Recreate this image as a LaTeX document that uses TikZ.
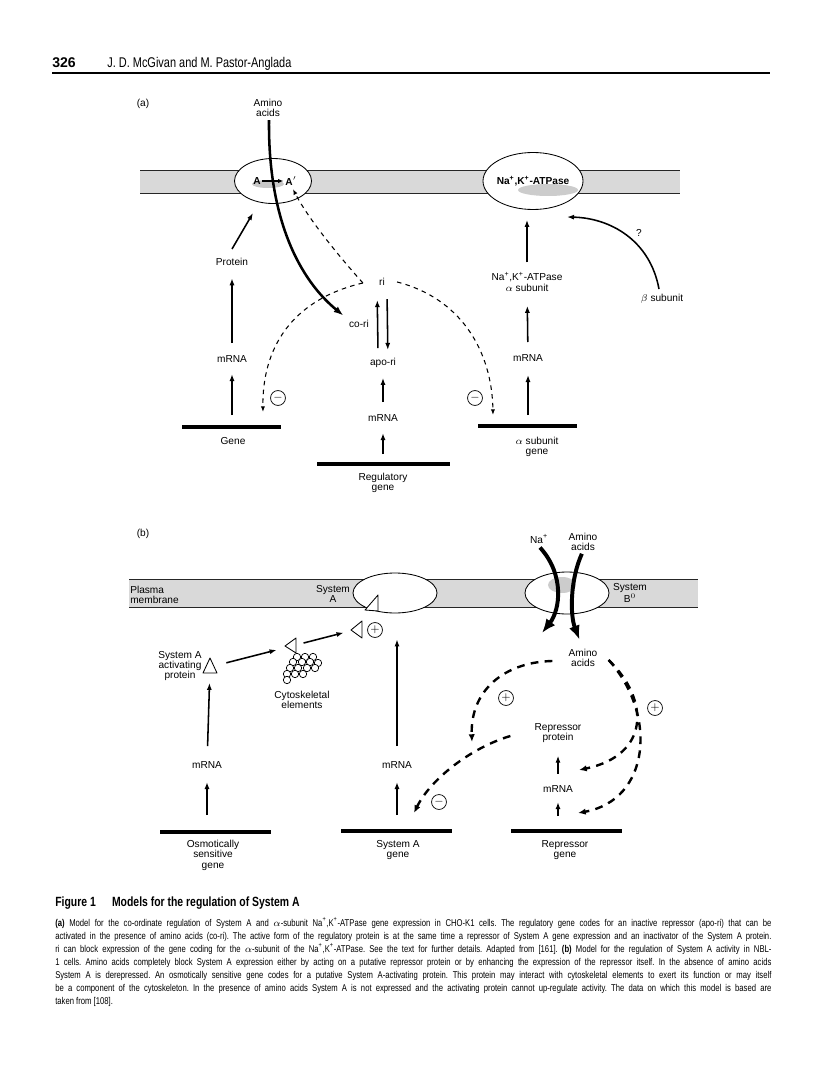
\documentclass[tikz,border=0pt]{standalone}
\usepackage{fontspec}
\setmainfont{Liberation Sans}
\newfontfamily\narrowfont[FakeStretch=0.78]{Liberation Sans}
\usetikzlibrary{arrows.meta}
\newcommand\lblfont{\fontsize{7.2}{7.4}\selectfont}
\newcommand\capfont{\narrowfont\fontsize{7}{9}\selectfont}
\frenchspacing

\tikzset{
  lbl/.style={font=\lblfont, align=center, inner sep=0pt},
  memb/.style={fill=black!15},
  mline/.style={line width=0.7pt, black!85},
  pump/.style={draw, line width=0.6pt, fill=white},
  genebar/.style={line width=3.4pt},
  arr/.style={line width=1.1pt, -{Latex[length=5pt,width=3.6pt]}},
  gap/.style 2 args={shorten <=#1, shorten >=#2},
  dsh/.style={line width=0.75pt, dash pattern=on 3.2pt off 3pt, -{Latex[length=4pt,width=3pt]}},
  bdsh/.style={line width=1.7pt, dash pattern=on 5.5pt off 4.5pt, -{Latex[length=5.5pt,width=4.5pt]}},
  big/.style={line width=2.8pt, -{Latex[length=10pt,width=8pt]}},
  sgn/.style={circle, draw, line width=0.5pt, minimum size=10.6pt, inner sep=0pt, font=\fontsize{8}{8}\selectfont},
  tri/.style={draw, line width=0.6pt, fill=white, line join=round},
}

\begin{document}
\begin{tikzpicture}[x=0.025cm, y=-0.025cm]
  \useasboundingbox (0,0) rectangle (816,1089);

  % page head
  \node[anchor=base west, inner sep=0pt, font=\bfseries\fontsize{10}{11}\selectfont] (pgno) at (52,68) {326};
  \node[anchor=base west, inner sep=0pt, font=\narrowfont\fontsize{10}{11}\selectfont] (auth) at (107,68) {J. D. McGivan and M. Pastor-Anglada};
  \draw[line width=1pt] (52,73) -- (770,73);

  % ---------- (a) ----------
  \node[lbl] (pa) at (143,104) {(a)};
  \node[lbl] (aa) at (268,108) {Amino\\acids};
  \fill[memb] (140,170) rectangle (680,193);
  \draw[mline] (140,170) -- (680,170) (140,193) -- (680,193);

  \draw[pump] (273,181) ellipse [x radius=38.5, y radius=22.5];
  \fill[black!22] (268,184) ellipse [x radius=16, y radius=4];
  \draw[pump] (533,181) ellipse [x radius=50, y radius=28.5];
  \fill[black!20] (548,190) ellipse [x radius=30, y radius=6];
  \coordinate (nakbot) at (527,210);
  \coordinate (nakse) at (567,217);

  \node[lbl, font=\lblfont\bfseries] (A) at (257,181) {A};
  \node[lbl, font=\lblfont\bfseries] (Ap) at (291,181) {A$'$};
  \draw[line width=0.8pt, -{Latex[length=4pt,width=3pt]}, gap={1pt}{1pt}] (A) -- (Ap);
  \node[lbl, font=\lblfont\bfseries] (nakp) at (533,181) {Na\textsuperscript{+},K\textsuperscript{+}-ATPase};

  % left column
  \node[lbl] (prot) at (232,262) {Protein};
  \node[lbl] (mA) at (232,359) {mRNA};
  \draw[genebar] (182,427) -- (281,427);
  \coordinate (gA) at (232,427);
  \node[lbl] (geneA) at (233,441) {Gene};
  \coordinate (ptip) at (253,213);
  \draw[arr] (prot.north) ++(0,-9) -- (ptip);
  \draw[arr, gap={8.5pt}{8pt}] (gA) -- (mA);
  \draw[arr, gap={8.7pt}{8.7pt}] (mA) -- (prot);

  % regulatory column
  \node[lbl] (ri) at (382,282) {ri};
  \node[lbl] (cori) at (359,324) {co-ri};
  \node[lbl] (apori) at (383,363) {apo-ri};
  \node[lbl] (mR) at (383,418) {mRNA};
  \draw[genebar] (317,464) -- (450,464);
  \coordinate (gR) at (383,464);
  \node[lbl] (regg) at (383,483) {Regulatory\\gene};
  \draw[arr, gap={7pt}{8pt}] (gR) -- (mR);
  \draw[arr, gap={8.7pt}{7pt}] (mR) -- (apori);
  \draw[arr, gap={7pt}{10pt}] ([xshift=-3.5pt]apori.north) -- ([xshift=-3.5pt]ri.south);
  \draw[arr, gap={9.4pt}{5.7pt}] ([xshift=3.5pt]ri.south) -- ([xshift=3.5pt]apori.north);

  % ATPase column
  \node[lbl] (nak) at (527,282) {Na\textsuperscript{+},K\textsuperscript{+}-ATPase\\$\alpha$ subunit};
  \node[lbl] (mN) at (528,358) {mRNA};
  \draw[genebar] (478,426) -- (577,426);
  \coordinate (gN) at (528,426);
  \node[lbl] (alg) at (537,447) {$\alpha$ subunit\\gene};
  \node[lbl] (beta) at (662,299) {$\beta$ subunit};
  \node[lbl] (qm) at (639,233) {?};
  \draw[arr, gap={7.8pt}{9.4pt}] (gN) -- (mN);
  \draw[arr, gap={8.7pt}{10pt}] (mN) -- (nak);
  \draw[arr, gap={7pt}{7pt}] (nak) -- (nakbot);
  \draw[arr] (beta.north) ++(-3,-5) .. controls (650,240) and (610,218) .. (nakse);

  % amino acids through System A
  \draw[line width=1.8pt, -{Latex[length=7pt,width=5pt]}, shorten >=5pt] (aa.south) ++(1,3) .. controls (268,220) and (300,280) .. (cori.north west);

  % ri effects
  \coordinate (gAtip) at (263,412);
  \coordinate (gNtip) at (493,415);
  \draw[dsh, shorten >=3pt] (ri.west) ++(-16,1) .. controls (345,263) and (310,222) .. (Ap.south);
  \draw[dsh] (ri.west) ++(-16,1) .. controls (290,300) and (262,350) .. (gAtip);
  \draw[dsh] (ri.east) ++(12,0) .. controls (460,298) and (492,350) .. (gNtip);
  \node[sgn] (mi1) at (278,398) {$-$};
  \node[sgn] (mi2) at (475,398) {$-$};

  % ---------- (b) ----------
  \node[lbl] (pb) at (143,534) {(b)};
  \node[lbl] (na) at (539,539) {Na\textsuperscript{+}};
  \node[lbl] (aab) at (583,542) {Amino\\acids};
  \fill[memb] (129,579) rectangle (698,607);
  \draw[mline] (129,579) -- (698,579) (129,607) -- (698,607);
  \node[lbl, align=left, anchor=west] (pm) at (130,595) {Plasma\\membrane};
  \node[lbl] (sysA) at (333,594) {System\\A};
  \draw[pump] (395,593) ellipse [x radius=42, y radius=20];
  \coordinate (ellSA) at (395,593);
  \draw[pump] (567,593) ellipse [x radius=42, y radius=21];
  \fill[black!20] (562,585) ellipse [x radius=14, y radius=8];
  \node[lbl] (sysB) at (630,593) {System\\B$^0$};

  % activating protein and cytoskeleton
  \draw[tri] (365,610) -- (378,595) -- (378,611) -- cycle;
  \draw[tri] (351,630) -- (362,621) -- (362,638) -- cycle;
  \draw[tri] (285,646) -- (296,638) -- (296,653) -- cycle;
  \draw[tri] (210,658) -- (203,673) -- (217,673) -- cycle;
  \coordinate (tA) at (210,667);
  \coordinate (tC) at (292,646);
  \coordinate (tP) at (358,629);
  \node[sgn] (pl1) at (375,630) {$+$};
  \foreach \p in {(297,657),(305,657),(313,657),(293,662),(302,662),(310,662),(318,663),
                  (290,668),(298,668),(307,668),(315,668),(287,674),(295,674),(303,674),(287,680)}
    \draw[line width=0.5pt, fill=white] \p circle [radius=3.7];
  \node[lbl] (cyto) at (302,700) {Cytoskeletal\\elements};
  \node[lbl] (sap) at (180,666) {System A\\activating\\protein};
  \draw[arr, gap={12pt}{11.3pt}] (tA) -- (tC);
  \draw[arr, gap={8.5pt}{10.6pt}] (tC) -- (tP);

  % genes (b)
  \node[lbl] (mO) at (207,765) {mRNA};
  \draw[genebar] (160,832) -- (271,832);
  \coordinate (gO) at (207,832);
  \node[lbl] (osg) at (213,855) {Osmotically\\sensitive\\gene};
  \draw[arr, gap={12pt}{9.4pt}] (gO) -- (mO);
  \draw[arr, gap={10.8pt}{11.3pt}] (mO) -- (tA);

  \node[lbl] (mS) at (397,765) {mRNA};
  \draw[genebar] (341,831) -- (452,831);
  \coordinate (gS) at (397,831);
  \node[lbl] (sag) at (398,850) {System A\\gene};
  \draw[arr, gap={11.3pt}{9.4pt}] (gS) -- (mS);
  \draw[arr, gap={10.8pt}{33pt}] (mS) -- (mS |- ellSA);

  \node[lbl] (rp) at (558,733) {Repressor\\protein};
  \node[lbl] (mRp) at (558,789) {mRNA};
  \draw[genebar] (511,831) -- (622,831);
  \coordinate (gRp) at (558,831);
  \node[lbl] (rpg) at (565,850) {Repressor\\gene};
  \draw[arr, gap={10.6pt}{6.6pt}] (gRp) -- (mRp);
  \draw[arr, gap={8pt}{9pt}] (mRp) -- (rp);

  % transport through System B0
  \coordinate (natip) at (542,633);
  \node[lbl] (aain) at (583,658) {Amino\\acids};
  \draw[big] (na.south) ++(1,4) .. controls (565,575) and (560,610) .. (natip);
  \draw[big, gap={2pt}{7pt}] (aab.south) .. controls (570,580) and (570,615) .. (aain.north);

  % amino acid effects
  \coordinate (rtip1) at (472,742);
  \coordinate (sgtip) at (414,813);
  \coordinate (rtip2) at (579,770);
  \coordinate (rtip3) at (578,813);
  \draw[bdsh] (aain.west) ++(-16,3) .. controls (505,662) and (470,690) .. (rtip1);
  \draw[bdsh] (rp.west) ++(-24,3) .. controls (470,748) and (430,780) .. (sgtip);
  \draw[bdsh] (aain.east) ++(11,2) .. controls (650,700) and (650,755) .. (rtip2);
  \draw[bdsh] (aain.east) ++(11,2) .. controls (658,715) and (650,800) .. (rtip3);
  \node[sgn] (pl2) at (506,698) {$+$};
  \node[sgn] (pl3) at (655,708) {$+$};
  \node[sgn] (mi3) at (439,802) {$-$};

  % caption
  \node[anchor=base west, inner sep=0pt, font=\narrowfont\bfseries\fontsize{9.5}{10}\selectfont] (fig) at (55,906) {Figure 1\quad\ Models for the regulation of System A};
  \foreach \t [count=\i, evaluate=\i as \yy using 913+13*\i] in {
    {\textbf{(a)} Model for the co-ordinate regulation of System A and $\alpha$-subunit Na\textsuperscript{+},K\textsuperscript{+}-ATPase gene expression in CHO-K1 cells. The regulatory gene codes for an inactive repressor (apo-ri) that can be},
    {activated in the presence of amino acids (co-ri). The active form of the regulatory protein is at the same time a repressor of System A gene expression and an inactivator of the System A protein.},
    {ri can block expression of the gene coding for the $\alpha$-subunit of the Na\textsuperscript{+},K\textsuperscript{+}-ATPase. See the text for further details. Adapted from [161]. \textbf{(b)} Model for the regulation of System A activity in NBL-},
    {1 cells. Amino acids completely block System A expression either by acting on a putative repressor protein or by enhancing the expression of the repressor itself. In the absence of amino acids},
    {System A is derepressed. An osmotically sensitive gene codes for a putative System A-activating protein. This protein may interact with cytoskeletal elements to exert its function or may itself},
    {be a component of the cytoskeleton. In the presence of amino acids System A is not expressed and the activating protein cannot up-regulate activity. The data on which this model is based are}}
    \node[anchor=base west, inner sep=0pt, font=\capfont] (cap\i) at (55,\yy) {\makebox[17.9cm][s]{\t}};
  \node[anchor=base west, inner sep=0pt, font=\capfont] (cap7) at (55,1004) {taken from [108].};
\end{tikzpicture}
\end{document}
